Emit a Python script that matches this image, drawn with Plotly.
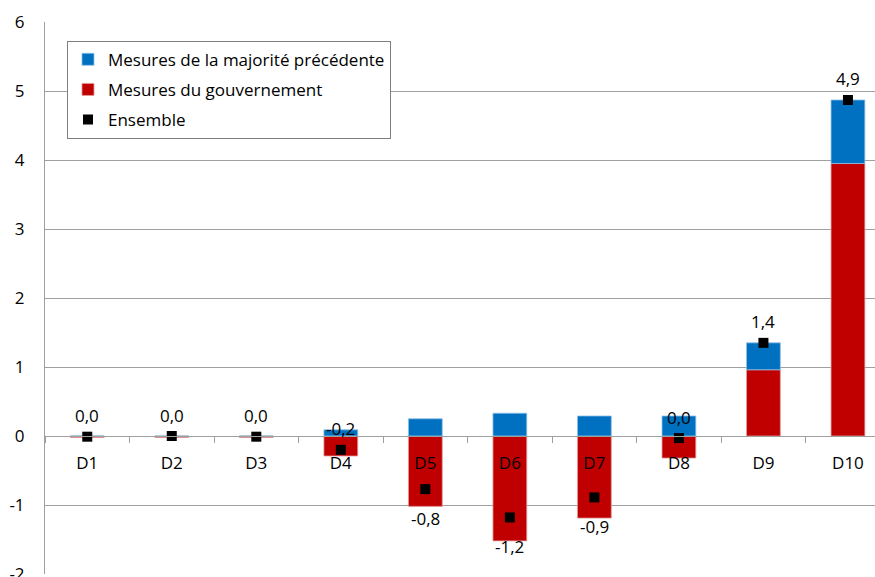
import plotly.graph_objects as go

categories = ["D1", "D2", "D3", "D4", "D5", "D6", "D7", "D8", "D9", "D10"]
majorite_precedente = [0.00, 0.00, 0.00, 0.09, 0.25, 0.33, 0.29, 0.29, 0.39, 0.92]
gouvernement = [-0.02, -0.02, -0.02, -0.29, -1.02, -1.52, -1.19, -0.32, 0.96, 3.95]
ensemble = [-0.01, 0.00, -0.01, -0.20, -0.77, -1.18, -0.89, -0.03, 1.35, 4.87]
label_side = ["above", "above", "above", "above", "below", "below", "below", "above", "above", "above"]
y_ticks = [-2, -1, 0, 1, 2, 3, 4, 5, 6]
y_tick_labels = ["-2", "-1", "0", "1", "2", "3", "4", "5", "6"]

FONT = "Open Sans"
FS = 17
BLUE = "#0070C0"
RED = "#C00000"


def fmt(v):
    r = round(v, 1)
    if r == 0:
        r = 0.0
    return f"{r:.1f}".replace(".", ",")


fig = go.Figure()
fig.add_trace(go.Bar(
    x=categories, y=gouvernement, name="Mesures du gouvernement",
    marker=dict(color=RED, line=dict(color="#e39a9a", width=0.8)),
    width=0.4, legendrank=2, legendgroup="g2",
))
fig.add_trace(go.Bar(
    x=categories, y=majorite_precedente, name="Mesures de la majorité précédente",
    marker=dict(color=BLUE, line=dict(color="#8fc0e6", width=0.8)),
    width=0.4, legendrank=1, legendgroup="g1",
))
fig.add_trace(go.Scatter(
    x=categories, y=ensemble, name="Ensemble", mode="markers",
    marker=dict(symbol="square", size=10, color="black"),
    legendrank=3, legendgroup="g3",
))

for c, v, side in zip(categories, ensemble, label_side):
    fig.add_annotation(
        x=c, y=v, text=fmt(v), showarrow=False,
        yshift=21 if side == "above" else -29,
        font=dict(family=FONT, size=FS, color="black"),
    )

fig.update_layout(
    width=875, height=577,
    margin=dict(l=45, r=0, t=22, b=3),
    barmode="relative",
    bargap=0.6,
    plot_bgcolor="white", paper_bgcolor="white",
    font=dict(family=FONT, size=FS, color="black"),
    showlegend=True,
    legend=dict(
        x=0.0265, y=0.966, xanchor="left", yanchor="top",
        bgcolor="white", bordercolor="#7f7f7f", borderwidth=1,
        font=dict(family=FONT, size=FS, color="black"),
        traceorder="grouped", tracegroupgap=5,
    ),
    xaxis=dict(
        type="category", range=[-0.5, 9.32],
        anchor="free", position=0.25, automargin=False,
        showline=True, linecolor="#a0a0a0", linewidth=1,
        ticks="outside", tickson="boundaries", ticklen=6, tickcolor="#a0a0a0",
        ticklabelstandoff=12,
        showgrid=False, zeroline=False,
        tickfont=dict(family=FONT, size=FS, color="black"),
    ),
    yaxis=dict(
        range=[-2, 6], tickvals=y_ticks, ticktext=y_tick_labels, automargin=False,
        showgrid=True, gridcolor="#a0a0a0", gridwidth=1,
        zeroline=False, showline=True, linecolor="#a0a0a0", linewidth=1,
        ticks="", ticklabelstandoff=16, ticklabeloverflow="allow",
        tickfont=dict(family=FONT, size=FS, color="black"),
    ),
)

fig.write_html(
    "out.html",
    config={"displayModeBar": False},
    post_script="document.body.style.margin='0';",
)
